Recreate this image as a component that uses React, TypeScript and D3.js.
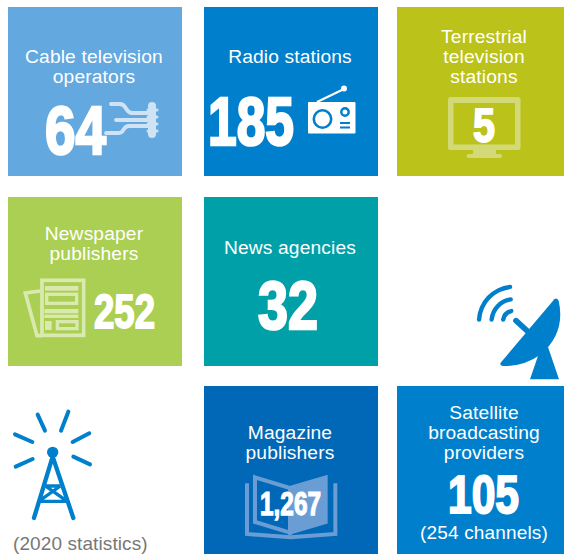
import React from "react";
import * as d3 from "d3";

// tile content
const titles = [
	["Cable television", "operators"],
	["Radio stations"],
	["Terrestrial", "television", "stations"],
	["Newspaper", "publishers"],
	["News agencies"],
	["Magazine", "publishers"],
	["Satellite", "broadcasting", "providers"],
];
const counts = ["64", "185", "5", "252", "32", "1,267", "105"];
const tileColors = ["#63a8df", "#0080cc", "#bbc219", "#abcf52", "#00a0a8", "#0068b7", "#0080cc"];
const note = "(2020 statistics)";
const subNote = "(254 channels)";

// layout of the tiles
const tileCols = [0, 1, 2, 0, 1, 1, 2];
const tileRows = [0, 0, 0, 1, 1, 2, 2];
const titleBaselines = [63, 63, 43, 240, 254, 439, 419];
// x, baseline, width, digit height of each big number
const countBoxes = [
	[46, 155, 59, 52],
	[209, 146, 84, 52],
	[474, 143, 20, 36],
	[95, 329, 59, 36],
	[259, 330, 58, 52],
	[261, 516, 59, 25],
	[449, 514, 69, 41],
];

const colX = d3.scaleOrdinal<number, number>().domain([0, 1, 2]).range([8, 204, 397]);
const rowY = d3.scaleOrdinal<number, number>().domain([0, 1, 2]).range([7, 197, 386]);
const titleX = d3.scaleOrdinal<number, number>().domain([0, 1, 2]).range([94, 290, 484]);
const TILE_W = 174;
const TILE_H = 169;

const FONT = "'Liberation Sans', Arial, sans-serif";
const NARROW = "'Liberation Sans Narrow', 'Liberation Sans', sans-serif";
const line = d3.line();

const CableIcon = () => (
	<g fill="none" stroke="#cfe3f5" strokeWidth={3.8} strokeLinecap="round">
		<path d="M111 104H120C127 104 125 113 132 113H150" />
		<path d="M116 120H150" />
		<path d="M106 133H119C125 133 122 126 129 126H150" />
		<path d="M152 106V134" strokeWidth={8} />
		<path d="M148 110H157M148 117H157M148 124H157M148 131H157" strokeWidth={3} />
	</g>
);

const RadioIcon = () => (
	<g>
		<rect x={308} y={102} width={47.5} height={31.5} rx={1} fill="#fff" />
		<path d={line([[317, 102], [344, 89]])!} stroke="#fff" strokeWidth={2} />
		<circle cx={344} cy={88.5} r={3} fill="#fff" />
		<circle cx={322.5} cy={119} r={8.7} fill="none" stroke="#0080cc" strokeWidth={2.6} />
		<circle cx={345} cy={112} r={3.7} fill="none" stroke="#0080cc" strokeWidth={2.4} />
		<path d="M340 123H350M340 127.5H350" stroke="#0080cc" strokeWidth={1.8} />
	</g>
);

const TvIcon = () => (
	<g fill="#d4d978">
		<path
			fillRule="evenodd"
			d="M450 97H518Q520.5 97 520.5 99.5V147.5Q520.5 150 518 150H450Q448 150 448 147.5V99.5Q448 97 450 97ZM453.5 103V144.5H515V103Z"
		/>
		<path d="M473 150H496V154H473Z" />
		<rect x={466.5} y={154} width={35.5} height={4} rx={2} />
	</g>
);

const NewspaperIcon = () => (
	<g transform="translate(0,190) scale(0.3333)" fill="#d9e9b0" stroke="none">
		<path d="M120 303L76 309L111 437H125" fill="none" stroke="#d9e9b0" strokeWidth={11} />
		<rect x={126} y={271} width={125} height={165} fill="#abcf52" stroke="#d9e9b0" strokeWidth={11} />
		<rect x={135} y={288} width={100} height={14} />
		<rect x={140} y={313} width={90} height={27} fill="none" stroke="#d9e9b0" strokeWidth={10} />
		<rect x={133} y={357} width={102} height={13} />
		<rect x={133} y={374} width={102} height={10} />
		<rect x={135} y={393} width={20} height={27} />
		<rect x={172} y={395} width={59} height={21} fill="none" stroke="#d9e9b0" strokeWidth={10} />
	</g>
);

const BookIcon = () => (
	<g transform="translate(200,380) scale(0.3333)" stroke="#6a9dd4" fill="none" strokeWidth={12}>
		<path d="M165 292L270 324V458L165 426Z" />
		<path d="M270 324L377 292V426L270 458Z" fill="#6a9dd4" />
		<path d="M141 310V462L272 472L406 462V310" />
	</g>
);

const waves = [35, 22.5, 11];
const DishIcon = () => {
	const arc = d3.arc<number>()
		.innerRadius((r) => r - 2.2)
		.outerRadius((r) => r + 2.2)
		.startAngle(-Math.PI / 2)
		.endAngle(-0.05)
		.cornerRadius(2.2);
	return (
		<g fill="#0080cc">
			<g transform="translate(514,321.7)">
				{waves.map((r) => (
					<path key={r} d={arc(r)!} />
				))}
			</g>
			<g transform="translate(460,270) scale(0.3333)">
				<path d="M122 278L283 88Q290 82 296 92Q318 190 240 255Q190 290 128 288Q118 286 122 278Z" />
				<path d={line([[168, 152], [215, 195]])!} stroke="#0080cc" strokeWidth={17} strokeLinecap="round" />
				<path d="M235 255L262 225L297 328H210Z" />
			</g>
		</g>
	);
};

const rays = [
	[[113, 44], [135, 92]],
	[[205, 35], [183, 92]],
	[[45, 103], [97, 126]],
	[[268, 100], [218, 126]],
	[[47, 200], [98, 177]],
	[[270, 193], [220, 170]],
] as [number, number][][];

const TowerIcon = () => (
	<g transform="translate(0,400) scale(0.3333)" stroke="#0080cc" fill="none" strokeWidth={12} strokeLinecap="round">
		{rays.map((r, i) => (
			<path key={i} d={line(r)!} />
		))}
		<circle cx={158} cy={157} r={17} fill="#0080cc" stroke="none" />
		<path d="M158 170L102 354M158 170L220 354" strokeWidth={13} />
		<path d="M136 258H181M116 304H202M136 258L202 304M181 258L116 304" strokeWidth={10} strokeLinecap="butt" />
	</g>
);

export default function App() {
	return (
		<svg
			width={564}
			height={554}
			style={{ position: "absolute", left: 0, top: 0, display: "block" }}
		>
			{counts.map((c, i) => (
				<rect
					key={i}
					x={colX(tileCols[i])}
					y={rowY(tileRows[i])}
					width={TILE_W}
					height={TILE_H}
					fill={tileColors[i]}
				/>
			))}
			<CableIcon />
			<RadioIcon />
			<TvIcon />
			<NewspaperIcon />
			<BookIcon />
			<DishIcon />
			<TowerIcon />
			{titles.map((lines, i) => (
				<text
					key={i}
					textAnchor="middle"
					fontFamily={FONT}
					fontSize={19.2}
					letterSpacing={0.15}
					fill="#fff"
				>
					{lines.map((l, j) => (
						<tspan key={j} x={titleX(tileCols[i])} y={titleBaselines[i] + j * 20}>
							{l}
						</tspan>
					))}
				</text>
			))}
			{counts.map((c, i) => {
				const [x, y, w, h] = countBoxes[i];
				const sw = h / 20;
				return (
					<text
						key={c}
						x={x - 1}
						y={y - sw / 2}
						textLength={w + 2}
						lengthAdjust="spacingAndGlyphs"
						fontFamily={NARROW}
						fontWeight={700}
						fontSize={(h - sw) / 0.72}
						fill="#fff"
						stroke="#fff"
						strokeWidth={sw}
						strokeLinejoin="miter"
					>
						{c}
					</text>
				);
			})}
			<text x={484} y={539} textAnchor="middle" fontFamily={FONT} fontSize={19} letterSpacing={0.15} fill="#fff">
				{subNote}
			</text>
			<text x={13} y={550} fontFamily={FONT} fontSize={19} letterSpacing={0.1} fill="#777">
				{note}
			</text>
		</svg>
	);
}
